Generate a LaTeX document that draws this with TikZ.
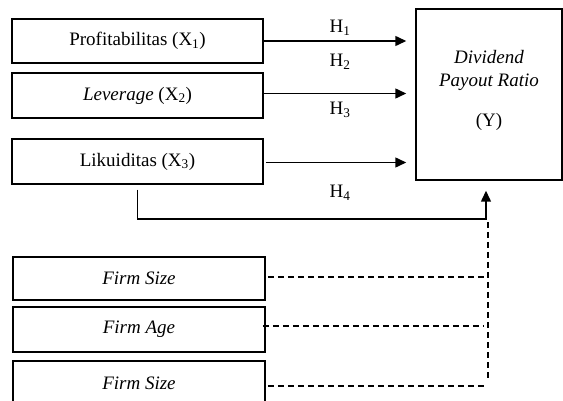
\documentclass[tikz,border=0pt]{standalone}
\usepackage{fontspec}
\setmainfont{Liberation Serif}
\usetikzlibrary{arrows.meta}
\begin{document}
\begin{tikzpicture}[x=1pt,y=-1pt,
  txt/.style={font=\fontsize{19}{23}\selectfont},
  box/.style={txt, draw, line width=1.5pt, inner sep=0pt, minimum width=251pt, minimum height=45pt},
  arr/.style={line width=1.5pt, -{Triangle[length=11pt,width=10pt]}},
  dashline/.style={line width=1.4pt, dash pattern=on 6pt off 4pt},
  lbl/.style={txt, inner sep=0pt}]
\clip (0,0) rectangle (563,401);
% left boxes
\node[box, minimum height=44pt] (b1) at (137.5,41) {Profitabilitas (X\textsubscript{1})};
\node[box] (b2) at (137.5,95.5) {\textit{Leverage} (X\textsubscript{2})};
\node[box] (b3) at (137.5,161.5) {Likuiditas (X\textsubscript{3})};
\node[box, minimum width=252pt, minimum height=43pt] (b4) at (139,278.5) {\textit{Firm Size}};
\node[box, minimum width=252pt] (b5) at (139,329.5) {\textit{Firm Age}};
\node[box, minimum width=252pt] (b6) at (139,383.5) {\textit{Firm Size}};
% dependent box
\node[draw, line width=1.5pt, minimum width=146pt, minimum height=171pt] (Y) at (489,94.5) {};
\node[lbl, align=center] (ytxt) at (489,90) {\textit{Dividend}\\\textit{Payout Ratio}\\[17pt](Y)};
% hypothesis labels
\node[lbl] (h1) at (340,28) {H\textsubscript{1}};
\node[lbl] (h2) at (340,62) {H\textsubscript{2}};
\node[lbl] (h3) at (340,110) {H\textsubscript{3}};
\node[lbl] (h4) at (340,193) {H\textsubscript{4}};
% arrows
\draw[arr, shorten >=9pt] (b1.east) -- (b1.east -| Y.west);
\draw[arr, shorten >=9pt] ([yshift=2pt]b2.east) -- ([yshift=2pt]b2.east -| Y.west);
\draw[arr, shorten <=2pt, shorten >=9pt] ([yshift=-1pt]b3.east) -- ([yshift=-1pt]b3.east -| Y.west);
\coordinate (c1) at (486,219);
\draw[arr, shorten <=5pt, shorten >=10pt] (b3.south) |- (c1) -- (c1 |- Y.south);
% control variables (dashed)
\coordinate (dtop) at (488,222);
\coordinate (dbot) at (488,380);
\draw[dashline] (dtop) -- (dbot);
\draw[dashline, shorten <=2pt] ([yshift=1.5pt]b4.east) -- ([yshift=1.5pt]b4.east -| dtop);
\draw[dashline, shorten >=5pt] ([xshift=-3pt,yshift=3.5pt]b5.east) -- ([yshift=3.5pt]b5.east -| dtop);
\draw[dashline, shorten <=2pt, shorten >=1pt] ([yshift=-2.5pt]b6.east) -- ([yshift=-2.5pt]b6.east -| dtop);
\end{tikzpicture}
\end{document}
